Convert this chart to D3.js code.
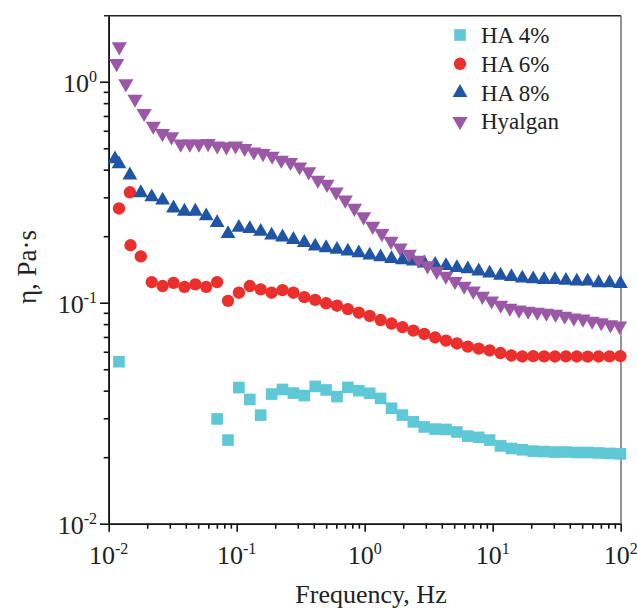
<!DOCTYPE html>
<html>
<head>
<meta charset="utf-8">
<script src="https://cdn.jsdelivr.net/npm/d3@7"></script>
<style>
body { margin: 0; background: #fff; }
text { font-family: "Liberation Serif", "Times New Roman", serif; fill: #222; }
</style>
</head>
<body>
<div id="chart"></div>
<script>
// frequency grid of the HA samples (Hz)
const freqHA = [0.01203, 0.01464, 0.01781, 0.02168, 0.02637, 0.03209, 0.03904, 0.04749, 0.05779, 0.0703,
  0.08553, 0.104, 0.1266, 0.154, 0.1874, 0.228, 0.2773, 0.3374, 0.4105, 0.4994,
  0.6076, 0.7392, 0.8994, 1.094, 1.331, 1.62, 1.971, 2.398, 2.917, 3.549,
  4.318, 5.253, 6.391, 7.776, 9.458, 11.51, 14.0, 17.03, 20.72, 25.21,
  30.67, 37.32, 45.4, 55.25, 67.22, 81.78, 99.5];

// Hyalgan was swept on a finer grid
const freqHyalgan = [0.01154, 0.01361, 0.01605, 0.01891, 0.0223, 0.02628, 0.03098, 0.03652, 0.04305, 0.05074,
  0.05981, 0.0705, 0.08311, 0.09797, 0.1155, 0.1361, 0.1605, 0.1891, 0.223, 0.2628,
  0.3098, 0.3652, 0.4305, 0.5074, 0.5981, 0.705, 0.8311, 0.9797, 1.155, 1.361,
  1.605, 1.891, 2.23, 2.628, 3.098, 3.652, 4.305, 5.074, 5.981, 7.05,
  8.311, 9.797, 11.55, 13.61, 16.05, 18.91, 22.3, 26.28, 30.98, 36.52,
  43.05, 50.74, 59.81, 70.5, 83.11, 97.97];

// viscosity, Pa·s
const ha4 = [0.0541, null, null, null, null, null, null, null, null, 0.0298,
  0.0239, 0.0413, 0.0365, 0.031, 0.0386, 0.0405, 0.039, 0.038, 0.0418, 0.0403,
  0.0376, 0.0414, 0.04, 0.0389, 0.0369, 0.0333, 0.031, 0.0289, 0.0274, 0.0268,
  0.0267, 0.026, 0.0249, 0.0246, 0.0239, 0.0225, 0.0219, 0.0216, 0.0213, 0.0212,
  0.0211, 0.0211, 0.021, 0.021, 0.0209, 0.0208, 0.0207];

const ha6 = [0.267, 0.316, 0.162, 0.124, 0.119, 0.123, 0.118, 0.121, 0.118, 0.124,
  0.102, 0.111, 0.119, 0.115, 0.111, 0.114, 0.111, 0.106, 0.103, 0.0994,
  0.0969, 0.0936, 0.0901, 0.0871, 0.0835, 0.0805, 0.0776, 0.0748, 0.0722, 0.0696,
  0.0674, 0.0654, 0.0633, 0.062, 0.0608, 0.0592, 0.0577, 0.0571, 0.0573, 0.0572,
  0.0571, 0.0572, 0.0571, 0.057, 0.0571, 0.0572, 0.0573];

const ha8 = [0.424, 0.378, 0.314, 0.301, 0.291, 0.268, 0.259, 0.259, 0.247, 0.23,
  0.205, 0.219, 0.216, 0.21, 0.202, 0.198, 0.193, 0.187, 0.18, 0.177,
  0.174, 0.171, 0.168, 0.164, 0.161, 0.158, 0.156, 0.154, 0.151, 0.149,
  0.147, 0.144, 0.142, 0.139, 0.136, 0.133, 0.131, 0.129, 0.128, 0.127,
  0.127, 0.126, 0.125, 0.125, 0.123, 0.123, 0.122];

const hyalgan = [1.21, 0.98, 0.835, 0.72, 0.63, 0.584, 0.564, 0.523, 0.523, 0.523,
  0.526, 0.513, 0.508, 0.513, 0.5, 0.482, 0.474, 0.461, 0.442, 0.432,
  0.412, 0.392, 0.359, 0.344, 0.317, 0.292, 0.268, 0.245, 0.222, 0.206,
  0.19, 0.177, 0.166, 0.156, 0.147, 0.139, 0.132, 0.125, 0.119, 0.113,
  0.107, 0.102, 0.0976, 0.0946, 0.0927, 0.0917, 0.0907, 0.0898, 0.0888, 0.087,
  0.0853, 0.0844, 0.0826, 0.0813, 0.0796, 0.0785];

// repeated first readings
const extraHA6 = [[0.0148, 0.182]];
const extraHA8 = [[0.0112, 0.447]];
const extraHyalgan = [[0.0121, 1.44]];

const seriesNames = ["HA 4%", "HA 6%", "HA 8%", "Hyalgan"];
const xMajor = [0.01, 0.1, 1, 10, 100];
const yMajor = [0.01, 0.1, 1];
const xExp = ["-2", "-1", "0", "1", "2"];
const yExp = ["-2", "-1", "0"];

const colors = ["#5ec8d6", "#ea2f2c", "#1f55a4", "#9b58a7"];
const shapes = [d3.symbolSquare, d3.symbolCircle, d3.symbolTriangle, d3.symbolTriangle];
const sizes = [135, 120, 95, 100];
const rotate = [0, 0, 0, 180];

function pairs(fr, vals, extra) {
    const out = [];
    (extra || []).forEach(p => out.push(p));
    vals.forEach((v, i) => { if (v != null) out.push([fr[i], v]); });
    return out;
}

const data = [
    pairs(freqHA, ha4),
    pairs(freqHA, ha6, extraHA6),
    pairs(freqHA, ha8, extraHA8),
    pairs(freqHyalgan, hyalgan, extraHyalgan)
];

const width = 637, height = 608;
const x = d3.scaleLog().domain([0.01, 100]).range([108.7, 620.7]);
const y = d3.scaleLog().domain([0.01, 1.99]).range([523.7, 15.7]);

const svg = d3.select("#chart").append("svg")
    .attr("width", width)
    .attr("height", height);

// minor ticks
const minorX = [], minorY = [];
[0.01, 0.1, 1, 10].forEach(d => { for (let m = 2; m < 10; m++) minorX.push(d * m); });
[0.01, 0.1, 1].forEach(d => { for (let m = 2; m < 10; m++) if (d * m < 1.99) minorY.push(d * m); });

function styleAxis(g) {
    g.selectAll("path").attr("stroke", "#111").attr("stroke-width", 1.6);
    g.selectAll("line").attr("stroke", "#111").attr("stroke-width", 1.6);
}

svg.append("g").attr("transform", "translate(0,523.7)")
    .call(d3.axisBottom(x).tickValues(minorX).tickSize(5).tickSizeOuter(0).tickFormat(""))
    .call(styleAxis);
svg.append("g").attr("transform", "translate(0,523.7)")
    .call(d3.axisBottom(x).tickValues(xMajor).tickSize(8).tickSizeOuter(0).tickFormat(""))
    .call(styleAxis);
svg.append("g").attr("transform", "translate(108.7,0)")
    .call(d3.axisLeft(y).tickValues(minorY).tickSize(5).tickSizeOuter(0).tickFormat(""))
    .call(styleAxis);
svg.append("g").attr("transform", "translate(108.7,0)")
    .call(d3.axisLeft(y).tickValues(yMajor).tickSize(8.7).tickSizeOuter(0).tickFormat(""))
    .call(styleAxis);

// frame: top and right
svg.append("line").attr("x1", 104).attr("x2", 621).attr("y1", 15.7).attr("y2", 15.7)
    .attr("stroke", "#222").attr("stroke-width", 1.4);
svg.append("line").attr("x1", 621).attr("x2", 621).attr("y1", 15.7).attr("y2", 523.7)
    .attr("stroke", "#666").attr("stroke-width", 1.4);

// tick labels with superscripts
xMajor.forEach((v, i) => {
    const t = svg.append("text")
        .attr("x", x(v)).attr("y", 564)
        .attr("text-anchor", "middle")
        .style("font-size", "26px");
    t.append("tspan").text("10");
    t.append("tspan").attr("dy", -10).style("font-size", "16px").text(xExp[i]);
});
yMajor.forEach((v, i) => {
    const t = svg.append("text")
        .attr("x", 97).attr("y", y(v) + 10)
        .attr("text-anchor", "end")
        .style("font-size", "26px");
    t.append("tspan").text("10");
    t.append("tspan").attr("dy", -10).style("font-size", "16px").text(yExp[i]);
});

// axis titles
svg.append("text")
    .attr("x", 371).attr("y", 603)
    .attr("text-anchor", "middle")
    .style("font-size", "26px")
    .text("Frequency, Hz");
svg.append("text")
    .attr("transform", "translate(36,267) rotate(-90)")
    .attr("text-anchor", "middle")
    .style("font-size", "27px")
    .text("η, Pa·s");

// markers
data.forEach((pts, s) => {
    const sym = d3.symbol().type(shapes[s]).size(sizes[s]);
    svg.append("g").selectAll("path")
        .data(pts)
        .enter()
        .append("path")
        .attr("d", sym)
        .attr("transform", d => `translate(${x(d[0])},${y(d[1])}) rotate(${rotate[s]})`)
        .attr("fill", colors[s]);
});

// legend
const legend = svg.append("g").attr("transform", "translate(460,35)");
seriesNames.forEach((name, i) => {
    const row = legend.append("g").attr("transform", `translate(0,${i * 28.8})`);
    row.append("path")
        .attr("d", d3.symbol().type(shapes[i]).size(sizes[i])())
        .attr("transform", `rotate(${rotate[i]})`)
        .attr("fill", colors[i]);
    row.append("text")
        .attr("x", 21).attr("y", 8)
        .style("font-size", "23px")
        .text(name);
});
</script>
</body>
</html>
